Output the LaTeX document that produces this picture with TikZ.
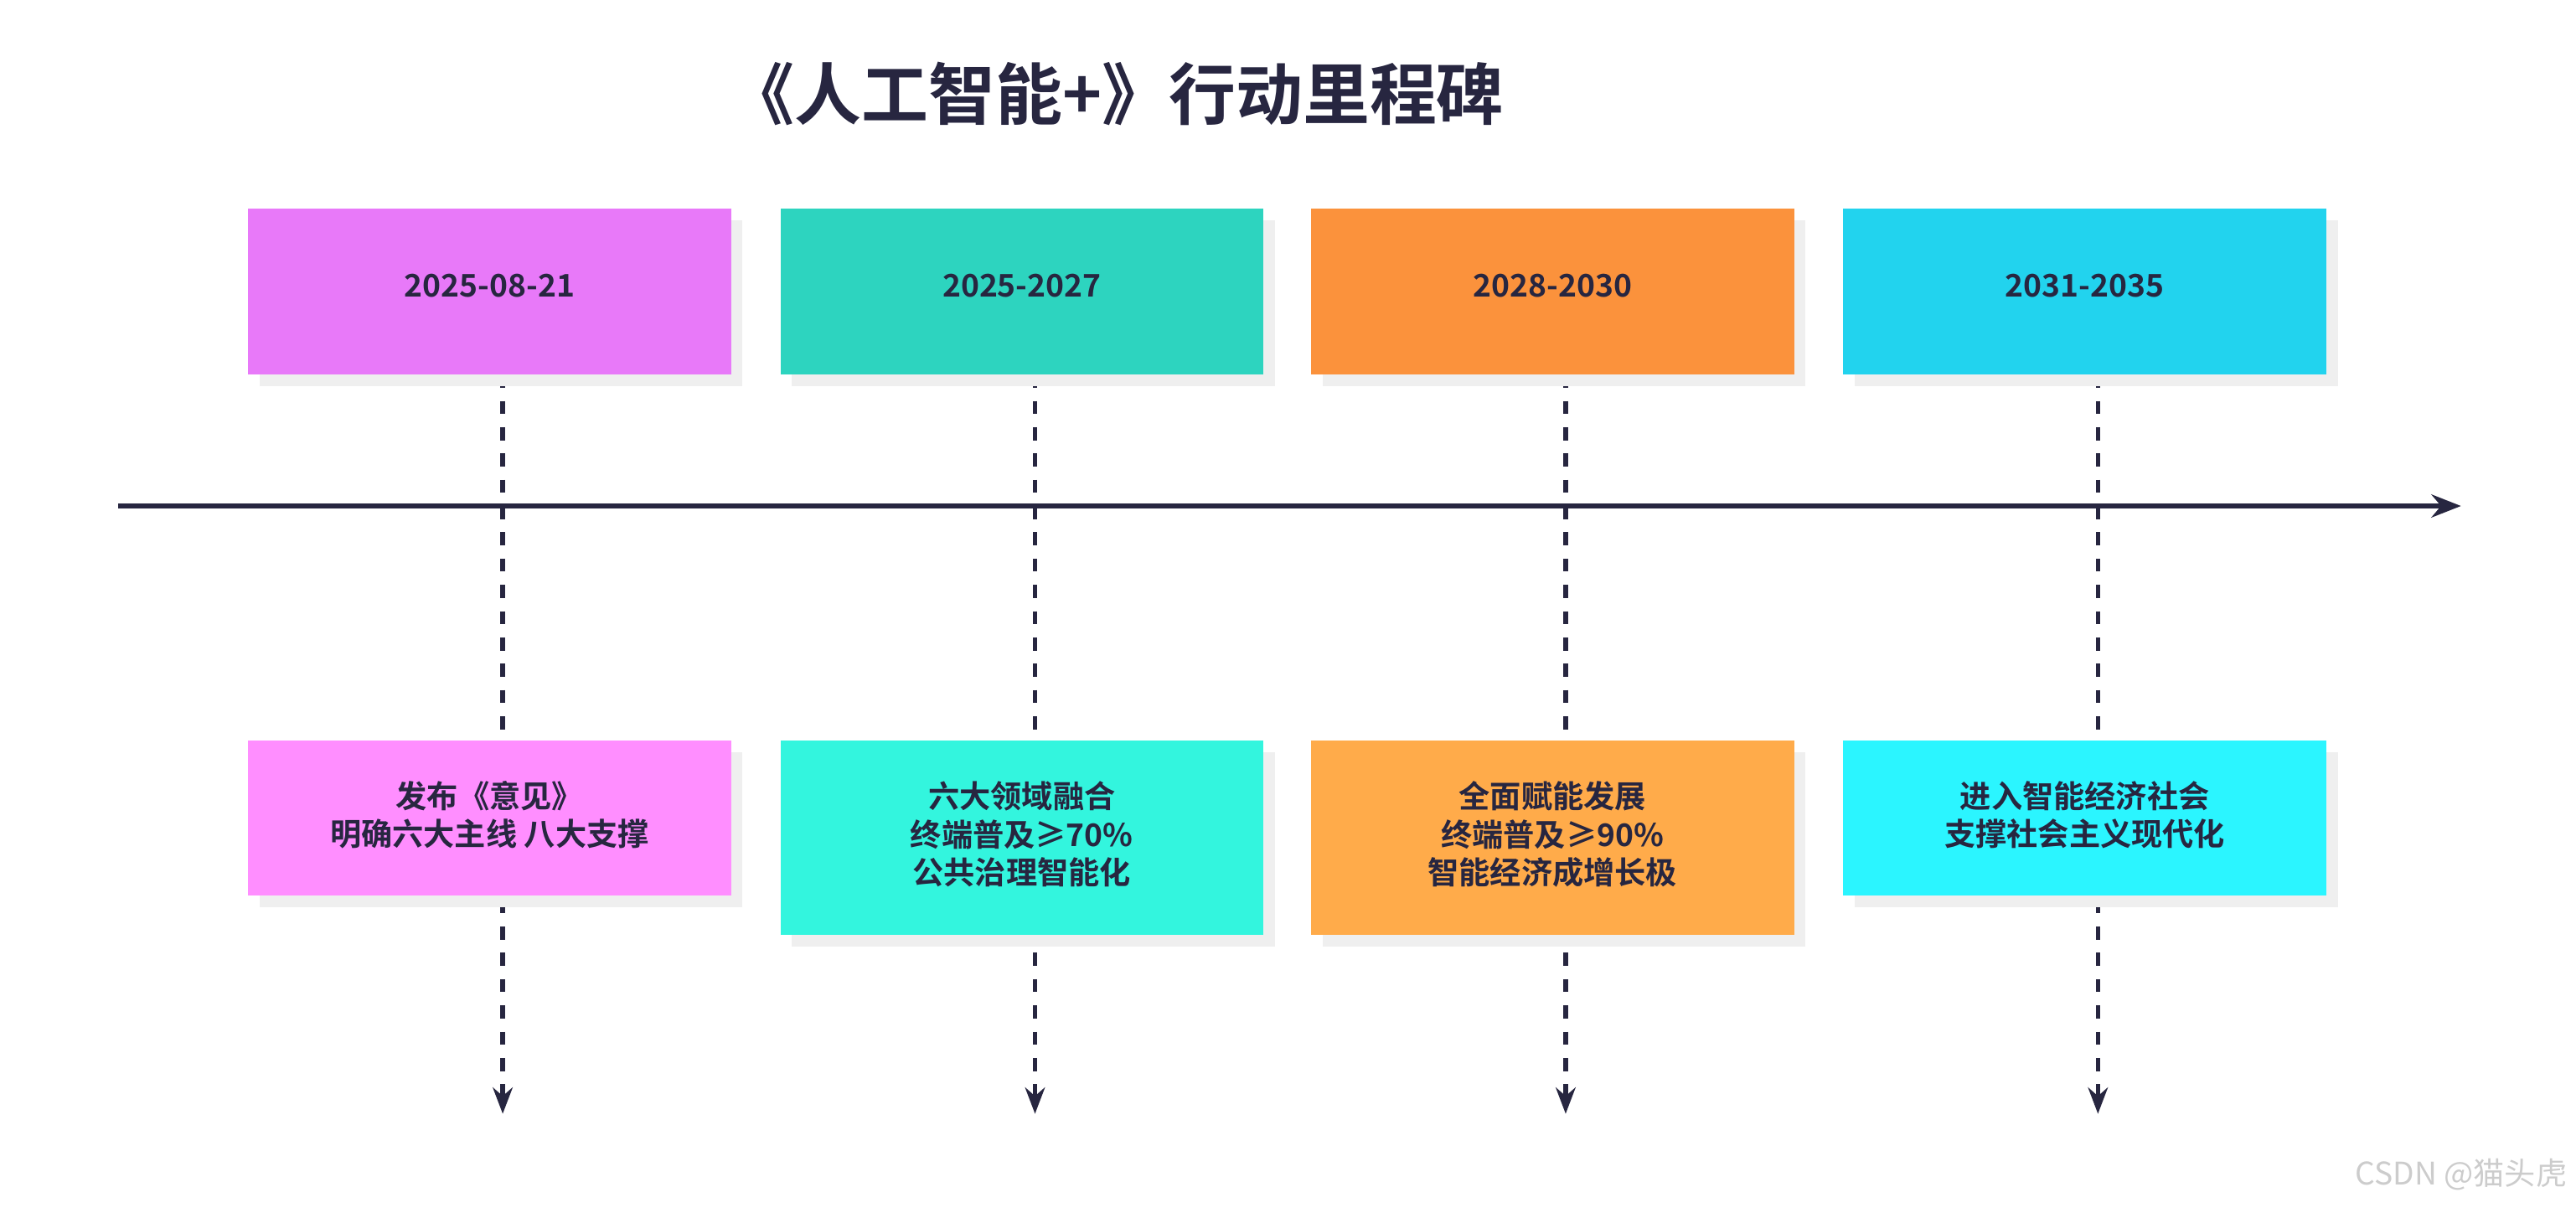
\documentclass[tikz,border=0pt]{standalone}
\usepackage{fontspec}
\setmainfont{Noto Sans CJK SC}[BoldFont={* Bold}]
\usetikzlibrary{arrows.meta}
\definecolor{ink}{HTML}{272640}
\definecolor{tA}{HTML}{E879F9}\definecolor{tB}{HTML}{2DD4BF}\definecolor{tC}{HTML}{FB923C}\definecolor{tD}{HTML}{22D3EE}
\definecolor{bA}{HTML}{FF8EFF}\definecolor{bB}{HTML}{33F5DE}\definecolor{bC}{HTML}{FFAB4A}\definecolor{bD}{HTML}{2BF5FF}
\definecolor{shad}{HTML}{EFEFEF}
\begin{document}
\begin{tikzpicture}[x=0.05cm,y=-0.05cm,
  lbl/.style={font=\bfseries\fontsize{27}{33}\selectfont, text=ink, align=center},
  conn/.style={draw=ink, line width=4pt, dash pattern=on 0.4cm off 0.4cm, -{Stealth[length=0.8cm,width=0.6cm]}}]
\useasboundingbox (0,0) rectangle (1568,741);
\node[font=\bfseries\fontsize{58}{64}\selectfont, text=ink] (title) at (679,57) {《人工智能+》行动里程碑};
\coordinate (a0) at (72,308); \coordinate (a1) at (1498,308);
\draw[ink, line width=4pt, -{Stealth[length=0.9cm,width=0.7cm]}] (a0) -- (a1);
\foreach \x/\n in {306/1,630/2,953/3,1277/4}{
  \coordinate (s\n) at (\x,228); \coordinate (e\n) at (\x,678);
  \draw[conn] (s\n) -- (e\n);
}
\foreach \x/\c/\d/\cb/\h/\t/\n in {
 151/tA/2025-08-21/bA/545/{发布《意见》\\明确六大主线 八大支撑}/1,
 475/tB/2025-2027/bB/569/{六大领域融合\\终端普及≥70\%\\公共治理智能化}/2,
 798/tC/2028-2030/bC/569/{全面赋能发展\\终端普及≥90\%\\智能经济成增长极}/3,
 1122/tD/2031-2035/bD/545/{进入智能经济社会\\支撑社会主义现代化}/4}{
  \fill[shad] (\x+7,134) rectangle (\x+301,235);
  \fill[\c] (\x,127) rectangle (\x+294,228);
  \node[lbl] (top\n) at (\x+147,174) {\d};
  \fill[shad] (\x+7,458) rectangle (\x+301,\h+7);
  \fill[\cb] (\x,451) rectangle (\x+294,\h);
  \node[lbl] (bot\n) at (\x+147,{(451+\h)/2-2}) {\t};
}
\node[font=\fontsize{27}{30}\selectfont, text=black!20, anchor=east] (wm) at (1565,715) {CSDN @猫头虎};
\end{tikzpicture}
\end{document}
